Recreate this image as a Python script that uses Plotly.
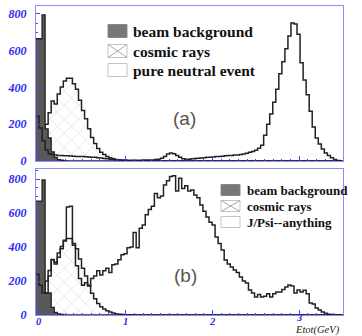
import numpy as np
import plotly.graph_objects as go

# ---------------- data ----------------
bin_width = 0.035
e_min = -0.035
n_bins = 101

beam_a = [665, 665, 795, 175, 125, 50, 20, 8, 4, 2] + [0] * 91

cosmic = [20, 50, 110, 200, 262, 326, 310, 365, 403, 435, 450, 450, 420, 390, 330,
          275, 230, 175, 128, 95, 68, 48, 35, 25, 18, 12, 8, 5, 3, 2, 1, 1] + [0] * 69

neutral = [245, 180, 110, 60, 40, 35, 32, 30, 30, 28, 28,
           27, 26, 25, 25, 24, 23, 22, 21, 20, 18,
           16, 14, 12, 10, 8, 7, 6,
           5, 5, 4, 4, 4, 4, 4, 5, 5, 5, 6, 8, 10, 15,
           25, 38, 43, 40, 30, 20,
           12, 10, 10, 12, 13,
           15, 16, 18, 20, 20, 22, 24, 25,
           26, 28, 30, 30, 32, 33, 35, 38,
           42, 48, 52, 58, 70,
           85, 140, 200, 255, 320, 390, 475, 540, 610, 680, 750, 745, 690,
           535, 440, 360, 270, 185, 125, 92, 65, 44, 30, 18, 8, 3, 0]

beam_b = [670, 670, 795, 130, 130, 45, 15, 6, 3] + [0] * 92

jpsi = [240, 175, 130, 130, 230, 325, 300, 340, 390, 440, 635, 640, 410, 290, 215,
        175, 190, 170, 215, 230, 260, 235, 260, 275, 250, 295, 300, 325, 355, 360,
        395, 400, 485, 395, 510, 530, 590, 620, 640, 715, 690, 700, 765, 790, 815,
        820, 730, 805, 745, 760, 730, 735, 706, 690, 647, 610, 576, 545, 529, 459,
        420, 382, 324, 300, 282, 265, 250, 224, 200, 188, 147, 130, 106, 120, 106,
        110, 125, 106, 125, 135, 135, 150, 165, 176, 170, 129, 147, 135, 145, 125,
        71, 65, 41, 30, 18, 10, 5, 3, 2, 2, 0]

y_ticks = [0, 200, 400, 600, 800]
x_ticks = [0, 1, 2, 3]
legend_a = ["beam background", "cosmic rays", "pure neutral event"]
legend_b = ["beam background", "cosmic rays", "J/Psi--anything"]

edges = e_min + bin_width * np.arange(n_bins + 1)

# ---------------- geometry helpers ----------------
W, H = 362, 336
ML, MR, MT, MB = 36, 19, 6, 21
PW, PH = W - ML - MR, H - MT - MB


def px(x):
    return (x - ML) / PW


def py(y):
    return (H - MB - y) / PH


def step(vals):
    return list(edges), list(vals) + [vals[-1]]


fig = go.Figure()

LINE = "#222222"
for (ax, beam, cos, outline) in [("", beam_a, cosmic, neutral), ("2", beam_b, cosmic, jpsi)]:
    xa, ya = "x" + ax, "y" + ax
    x, y = step(cos)
    fig.add_trace(go.Scatter(x=x, y=y, xaxis=xa, yaxis=ya, mode="lines", line_shape="hv",
                             line=dict(color=LINE, width=1.5), fill="tozeroy",
                             fillpattern=dict(shape="x", fgcolor="#8e8e8e", bgcolor="white",
                                              size=10, solidity=0.08),
                             showlegend=False, hoverinfo="skip"))
    x, y = step(beam)
    fig.add_trace(go.Scatter(x=x, y=y, xaxis=xa, yaxis=ya, mode="lines", line_shape="hv",
                             line=dict(color=LINE, width=1.3), fill="tozeroy",
                             fillcolor="#585858", showlegend=False, hoverinfo="skip"))
    x, y = step(outline)
    fig.add_trace(go.Scatter(x=x, y=y, xaxis=xa, yaxis=ya, mode="lines", line_shape="hv",
                             line=dict(color=LINE, width=1.5),
                             showlegend=False, hoverinfo="skip"))

BLUE = "#2a2aee"
tickfont = dict(family="Liberation Serif", size=12, color=BLUE, weight="bold", style="italic")
axis_common = dict(showline=True, linecolor="#8c8cff", linewidth=1, mirror=True, automargin=False,
                   ticks="inside", tickcolor="#4444ff", showgrid=False, zeroline=False)
minor_x = dict(dtick=0.1, ticklen=2, ticks="inside", tickcolor="#4444ff")
minor_y = dict(dtick=50, ticklen=2, ticks="inside", tickcolor="#4444ff")

fig.update_layout(
    width=W, height=H, margin=dict(l=ML, r=MR, t=MT, b=MB),
    paper_bgcolor="white", plot_bgcolor="white",
    xaxis=dict(domain=[0, 1], range=[-0.035, 3.505], anchor="y", tickvals=x_ticks,
               showticklabels=False, ticklen=5, minor=minor_x, **axis_common),
    yaxis=dict(domain=[py(161), 1], range=[0, 843], anchor="x", tickvals=y_ticks,
               ticklen=4, tickfont=tickfont, ticklabelstandoff=6, minor=minor_y, **axis_common),
    xaxis2=dict(domain=[0, 1], range=[-0.035, 3.505], anchor="y2", tickvals=x_ticks,
                showticklabels=False, ticklen=5, minor=minor_x, **axis_common),
    yaxis2=dict(domain=[0, py(169)], range=[0, 859], anchor="x2", tickvals=y_ticks,
                ticklen=4, tickfont=tickfont, ticklabelstandoff=6, minor=minor_y, **axis_common),
)

shapes = []
annots = []

# x tick labels of the lower panel
for t in x_ticks:
    annots.append(dict(xref="x2", yref="paper", x=t, y=py(317 if t == 3 else 321), text=str(t),
                       showarrow=False, xanchor="center", yanchor="middle",
                       font=dict(family="Liberation Serif", size=10.5, color=BLUE,
                                 weight="bold", style="italic")))


def legend(rows, box_x0, box_w, box_h, text_x, centers, fsize):
    for i, (label, cy) in enumerate(zip(rows, centers)):
        x0, x1 = px(box_x0), px(box_x0 + box_w)
        y0, y1 = py(cy + box_h / 2), py(cy - box_h / 2)
        if i == 0:
            shapes.append(dict(type="rect", xref="paper", yref="paper", x0=x0, x1=x1, y0=y0, y1=y1,
                               fillcolor="#777777", line=dict(color="#888888", width=1)))
        else:
            shapes.append(dict(type="rect", xref="paper", yref="paper", x0=x0, x1=x1, y0=y0, y1=y1,
                               fillcolor="white", line=dict(color="#c4c4c4", width=1)))
        if i == 1:
            shapes.append(dict(type="line", xref="paper", yref="paper", x0=x0, x1=x1, y0=y0, y1=y1,
                               line=dict(color="#a8a8a8", width=1)))
            shapes.append(dict(type="line", xref="paper", yref="paper", x0=x0, x1=x1, y0=y1, y1=y0,
                               line=dict(color="#a8a8a8", width=1)))
        annots.append(dict(xref="paper", yref="paper", x=px(text_x), y=py(cy), text=label,
                           showarrow=False, xanchor="left", yanchor="middle",
                           font=dict(family="Liberation Serif", size=fsize, color="#111111",
                                     weight="bold")))


legend(legend_a, 108, 19, 13, 131, [31, 51, 70], 15.5)
legend(legend_b, 221, 19, 11, 245, [190, 206, 222], 13)

annots.append(dict(xref="paper", yref="paper", x=px(184), y=py(118), text="(a)", showarrow=False,
                   xanchor="center", yanchor="middle",
                   font=dict(family="Liberation Sans", size=19, color="#555555")))
annots.append(dict(xref="paper", yref="paper", x=px(185), y=py(275), text="(b)", showarrow=False,
                   xanchor="center", yanchor="middle",
                   font=dict(family="Liberation Sans", size=19, color="#555555")))
annots.append(dict(xref="paper", yref="paper", x=px(317), y=py(329.5), text="Etot(GeV)", showarrow=False,
                   xanchor="center", yanchor="middle",
                   font=dict(family="Liberation Serif", size=10.5, color="#222222", style="italic")))

fig.update_layout(shapes=shapes, annotations=annots)
fig.write_html("out.html", config={"displayModeBar": False},
               post_script="document.body.style.margin='0';document.body.style.overflow='hidden';")
